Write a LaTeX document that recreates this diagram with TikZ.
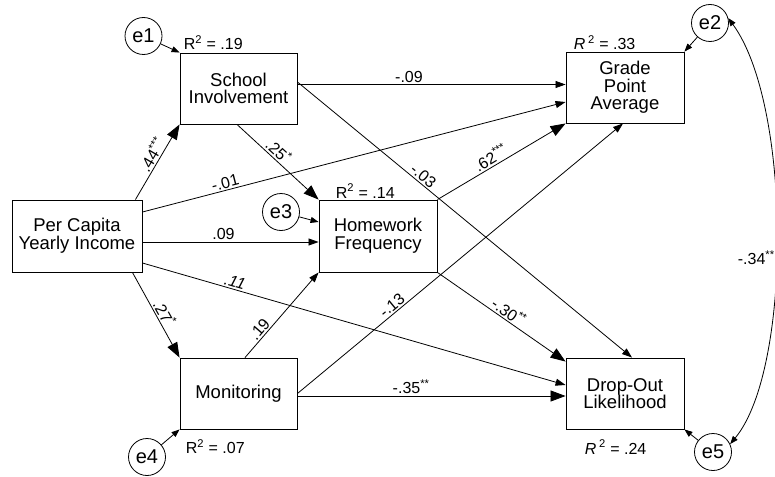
\documentclass[tikz,border=0pt]{standalone}
\usepackage{fontspec}
\setmainfont{Liberation Sans}
\usetikzlibrary{arrows.meta}
\begin{document}
\begin{tikzpicture}[x=1pt,y=-1pt, line width=0.8pt,
 box/.style={draw, line width=0.9pt, minimum width=117pt, minimum height=71pt, align=center, font=\fontsize{18.5}{17.7}\selectfont, inner sep=0pt},
 err/.style={draw, circle, minimum size=37pt, inner sep=0pt, font=\fontsize{20}{20}\selectfont},
 lab/.style={font=\fontsize{16}{16}\selectfont, inner sep=1.5pt},
 big/.style={-{Triangle[length=15pt,width=11pt]}},
 small/.style={-{Triangle[length=10pt,width=7pt]}},
 tiny/.style={-{Triangle[length=8pt,width=6pt]}},
]
\useasboundingbox (0,0) rectangle (775,476);
\fill[white] (0,0) rectangle (775,476);

\node[box, minimum width=130pt, minimum height=72pt] (pc) at (77,236) {Per Capita\\Yearly Income};
\node[box] (si) at (238.5,88.5) {School\\Involvement};
\node[box, minimum width=118pt, minimum height=72pt] (hf) at (378,236) {Homework\\Frequency};
\node[box, minimum width=118pt] (gpa) at (625,87.5) {Grade\\Point\\Average};
\node[box] (mon) at (238.5,393.5) {Monitoring};
\node[box, minimum width=118pt] (do) at (625,393.5) {Drop-Out\\Likelihood};

\node[err] (e1) at (143.5,36) {e1};
\node[err] (e2) at (710,23) {e2};
\node[err] (e3) at (281,212) {e3};
\node[err] (e4) at (147,457) {e4};
\node[err] (e5) at (713,452) {e5};

\draw[big] ([xshift=-7pt]pc.north east) -- node[lab, sloped, above, pos=0.54] {.44\textsuperscript{***}} (si.south west);
\draw[small] ([yshift=24pt]pc.east) -- node[lab, sloped, above, pos=0.2] {-.01} ([yshift=-14.5pt]gpa.west);
\draw[small] ([yshift=-6pt]pc.east) -- node[lab, above, pos=0.46] {.09} ([yshift=-6pt]hf.west);
\draw[small] ([yshift=-27pt]pc.east) -- node[lab, sloped, above, pos=0.214] {\itshape .11} ([yshift=8.5pt]do.west);
\draw[big] ([xshift=-10pt]pc.south east) -- node[lab, sloped, above, pos=0.526] {.27\textsuperscript{*}} (mon.north west);
\draw[small] ([yshift=4pt]si.east) -- node[lab, above, pos=0.416] {-.09} ([yshift=3pt]gpa.west);
\draw[big] ([xshift=-1.5pt]si.south) -- node[lab, sloped, above, pos=0.44] {.25\textsuperscript{*}} (hf.north west);
\draw[small] ([yshift=6.5pt]si.east) -- node[lab, sloped, above, pos=0.362] {-.03} ([xshift=7pt]do.north);
\draw[big] (hf.north east) -- node[lab, sloped, above, pos=0.45] {.62\textsuperscript{***}} (gpa.south west);
\draw[big] (hf.south east) -- node[lab, sloped, above, pos=0.52] {-.30\textsuperscript{**}} ([yshift=-4pt]do.north west);
\draw[small] ([xshift=6.5pt]mon.north) -- node[lab, sloped, above, pos=0.276] {.19} (hf.south west);
\draw[small] (mon.east) -- node[lab, sloped, above, pos=0.305] {-.13} ([xshift=-2pt]gpa.south);
\draw[big] ([yshift=-2.5pt]mon.east) -- node[lab, above, pos=0.424] {-.35\textsuperscript{**}} ([yshift=-2.5pt]do.west);

\draw[tiny] (e1) -- (si.north west);
\draw[tiny] (e2) -- (gpa.north east);
\draw[tiny] (e3) -- ([yshift=14pt]hf.west);
\draw[tiny] (e4) -- (mon.south west);
\draw[tiny] (e5) -- (do.south east);

\node[lab, anchor=west] (r1) at (182,43) {R\textsuperscript{2} = .19};
\node[lab, anchor=west] (r2) at (572,43) {\textit{R}\,\textsuperscript{2} = .33};
\node[lab, anchor=west] (r3) at (334,191) {R\textsuperscript{2} = .14};
\node[lab, anchor=west] (r4) at (184,447) {R\textsuperscript{2} = .07};
\node[lab, anchor=west] (r5) at (583,447) {\textit{R}\,\textsuperscript{2} = .24};

\draw[{Triangle[length=8pt,width=6pt]}-{Triangle[length=8pt,width=6pt]}] (e2.15) .. controls (792,105) and (792,370) .. (e5.25);
\node[lab, fill=white, anchor=west] (c34) at (736,258) {-.34\textsuperscript{**}};
\end{tikzpicture}
\end{document}
